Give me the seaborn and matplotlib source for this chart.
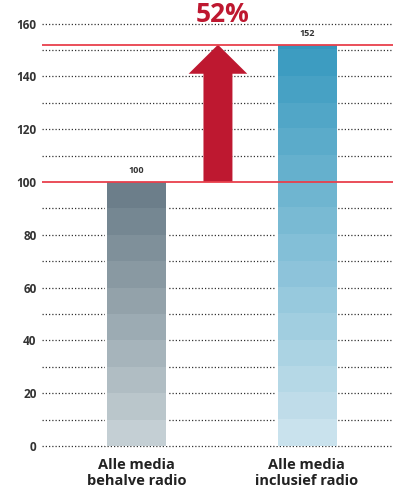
import numpy as np
import pandas as pd
import matplotlib
matplotlib.use("Agg")
import matplotlib.pyplot as plt
import seaborn as sns
from matplotlib.colors import to_rgb

categories = ["Alle media\nbehalve radio", "Alle media\ninclusief radio"]
values = [100, 152]
increase_label = "52%"
y_ticks = [0, 20, 40, 60, 80, 100, 120, 140, 160]
y_grid = list(range(0, 170, 10))

sns.set_theme(style="white")
plt.rcParams['font.family'] = ['Open Sans', 'DejaVu Sans']

fig = plt.figure(figsize=(3.93, 4.95), dpi=100)
ax = fig.add_axes([0.107, 0.099, 0.893, 0.896])

df = pd.DataFrame({"cat": categories, "val": values})
sns.barplot(data=df, x="cat", y="val", ax=ax, width=0.345, color="#888888",
            edgecolor="none", linewidth=0, zorder=3)

# dotted grid
for g in y_grid:
    if g == 100:
        continue
    ax.axhline(g, color="#333333", linestyle=(0, (1, 1.6)), linewidth=0.9,
               zorder=1, clip_on=False)

# stepped gradient bars with thin white border (gap in gridlines)
top_cols = ["#6c7e8a", "#3497be"]
bot_cols = ["#c4cfd4", "#c9e2ed"]
for i, patch in enumerate(ax.patches[:2]):
    x0 = patch.get_x(); w = patch.get_width(); h = patch.get_height()
    nb = int(np.ceil(h / 10))
    t = np.array(to_rgb(top_cols[i])); b = np.array(to_rgb(bot_cols[i]))
    res = 300
    ys = np.linspace(0, h, res)
    band = np.floor(ys / 10)
    frac = band / max(nb - 1, 1)
    img = b[None, :] + (t - b)[None, :] * frac[:, None]
    img = img[:, None, :]
    im = ax.imshow(img, extent=[x0, x0 + w, 0, h], origin="lower", aspect="auto",
                   zorder=3.5, interpolation="nearest")
    im.set_clip_path(patch)
    patch.set_facecolor("none")
    patch.set_edgecolor("white")
    patch.set_linewidth(3)
    patch.set_zorder(2)
ax.set_aspect("auto")
ax.set_xlim(-0.554, 1.505)
ax.set_ylim(0, 168)

# red reference lines
for v in values:
    ax.axhline(v, color="#e8404c", linewidth=1.3, zorder=5)

# value labels
for i, v in enumerate(values):
    ax.text(i, v + 2.5, str(v), ha="center", va="bottom", fontsize=6.5,
            fontweight="bold", color="#333333", zorder=6)

# arrow
ax.fill([0.393, 0.563, 0.563, 0.65, 0.478, 0.306, 0.393, 0.393],
        [values[0], values[0], 141, 141, values[1], 141, 141, values[0]],
        color="#be1830", zorder=4.5, linewidth=0)
ax.text(0.505, 158.5, increase_label, ha="center", va="bottom", fontsize=19,
        fontweight="bold", color="#be1830", zorder=6)

ax.set_yticks(y_ticks)
ax.set_yticklabels([str(t) for t in y_ticks], fontsize=8.5, fontweight="bold", color="#333333")
ax.tick_params(axis="y", length=0, pad=4)
ax.tick_params(axis="x", length=0, pad=9)
ax.set_xticks([0, 1])
ax.set_xticklabels(categories, fontsize=10.5, fontweight="bold", color="#222222", linespacing=1.15)
ax.set_xlabel("")
ax.set_ylabel("")
for s in ax.spines.values():
    s.set_visible(False)

fig.savefig("out.png", dpi=100)
